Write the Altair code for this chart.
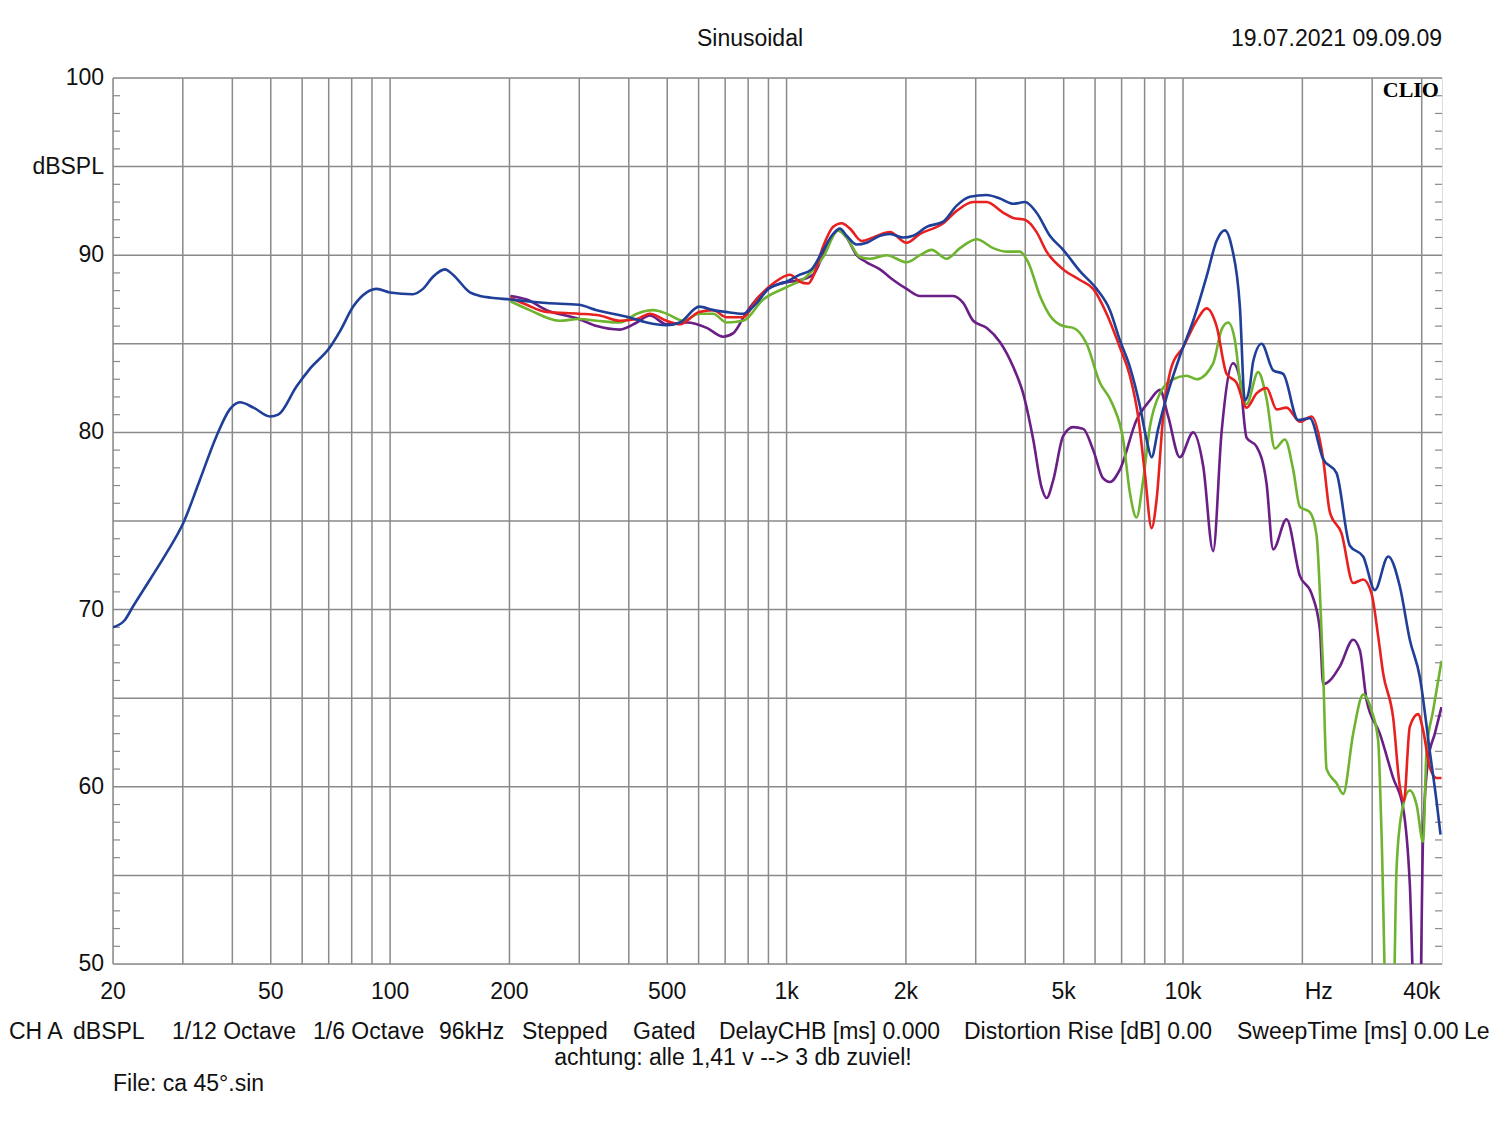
import altair as alt
import pandas as pd

# ---------------- data ----------------
blue_f = [20, 21.4, 22.5, 24.8, 27.3, 30.1, 33.1, 36.5, 39.4, 41.8,
          45.2, 49.8, 52.2, 58.1, 62.8, 70.5, 74.7, 80.7, 87.3, 92.5,
          99.9, 114, 121, 128.5, 137.5, 144, 159, 168.5, 180, 201,
          221, 248, 299, 332, 400, 444, 498, 538, 602, 653,
          702, 777, 840, 900, 1000, 1081, 1156, 1237, 1311, 1363,
          1417, 1502, 1592, 1720, 1823, 1968, 2086, 2256, 2484, 2686,
          2900, 3194, 3452, 3729, 3991, 4273, 4615, 4986, 5494, 6054,
          6540, 6930, 7344, 7782, 8092, 8330, 8656, 9090, 9814, 10606,
          11468, 12150, 12752, 13258, 13912, 14320, 14742, 15030, 15782, 16882,
          17890, 19518, 20890, 22566, 24392, 26354, 28468, 30470, 32916, 35230,
          37328, 39560, 41924, 43590, 44616]
blue_db = [69.0, 69.4, 70.2, 71.7, 73.2, 74.9, 77.3, 79.8, 81.3, 81.7,
           81.4, 80.9, 81.0, 82.6, 83.6, 84.8, 85.7, 87.1, 87.9, 88.1,
           87.9, 87.8, 88.1, 88.8, 89.2, 88.9, 87.9, 87.7, 87.6, 87.5,
           87.4, 87.3, 87.2, 86.9, 86.5, 86.2, 86.05, 86.2, 87.1, 86.9,
           86.8, 86.7, 87.3, 88.1, 88.5, 88.9, 89.2, 90.3, 91.2, 91.5,
           91.1, 90.6, 90.7, 91.1, 91.2, 91.0, 91.1, 91.6, 91.9, 92.8,
           93.3, 93.4, 93.2, 92.9, 93.0, 92.4, 91.1, 90.3, 89.1, 88.1,
           86.9, 85.2, 83.7, 81.5, 79.6, 78.6, 80.2, 82.0, 84.3, 86.3,
           88.8, 90.8, 91.4, 90.5, 87.1, 81.8, 82.6, 84.0, 85.0, 83.5,
           83.3, 80.7, 80.8, 78.5, 77.7, 73.6, 73.0, 71.1, 73.0, 71.3,
           68.3, 66.2, 62.0, 59.2, 57.3]

red_f = [201, 221, 248, 299, 338, 380, 419, 452, 498, 538,
         602, 653, 706, 777, 840, 925, 1020, 1081, 1134, 1167,
         1237, 1311, 1377, 1445, 1547, 1654, 1823, 2008, 2170, 2484,
         2686, 2956, 3194, 3518, 3729, 3991, 4273, 4528, 4986, 5494,
         5936, 6416, 6930, 7344, 7706, 8012, 8330, 8576, 8912, 9354,
         10004, 10816, 11468, 12150, 12878, 13646, 14462, 15330, 16246, 17216,
         18244, 19712, 21098, 22566, 23462, 25110, 26862, 28468, 29892, 31058,
         31974, 33884, 35230, 36060, 37328, 39170, 40324, 41924, 43590, 44874]
red_db = [87.6, 87.2, 86.8, 86.7, 86.6, 86.3, 86.4, 86.7, 86.3, 86.1,
          86.8, 86.9, 86.5, 86.5, 87.5, 88.4, 88.9, 88.5, 88.4, 88.8,
          90.5, 91.6, 91.8, 91.5, 90.8, 91.0, 91.3, 90.7, 91.2, 91.8,
          92.5, 93.0, 93.0, 92.4, 92.1, 92.0, 91.3, 90.2, 89.2, 88.6,
          88.1, 86.7, 84.8, 83.2, 80.9, 77.7, 74.6, 76.2, 80.9, 83.7,
          84.8, 86.3, 87.0, 86.0, 83.3, 82.8, 81.4, 82.2, 82.5, 81.3,
          81.4, 80.6, 80.9, 78.5, 75.5, 74.3, 71.5, 71.7, 70.9, 68.5,
          66.4, 63.9, 60.0, 59.2, 63.4, 64.1, 63.2, 61.1, 60.5, 60.5]

green_f = [201, 225, 268, 299, 332, 380, 419, 461, 498, 549,
           602, 653, 706, 777, 873, 1000, 1123, 1237, 1350, 1417,
           1531, 1623, 1788, 2008, 2170, 2322, 2532, 2738, 3016, 3320,
           3589, 3876, 4069, 4356, 4615, 4986, 5284, 5713, 6171, 6540,
           6666, 7063, 7344, 7634, 7932, 8248, 8742, 9442, 10206, 10816,
           11912, 12508, 12998, 13514, 13912, 14462, 15472, 16246, 17046, 18068,
           18960, 19712, 20890, 21718, 22138, 22566, 23016, 24392, 25348, 26862,
           28468, 29892, 31058, 31680, 32614, 33884, 34562, 35580, 37328, 38810,
           40324, 41130, 42734, 44874]
green_db = [87.4, 86.9, 86.3, 86.4, 86.3, 86.2, 86.7, 86.9, 86.7, 86.3,
            86.7, 86.7, 86.2, 86.3, 87.5, 88.2, 88.8, 89.9, 91.4, 91.0,
            89.9, 89.8, 90.0, 89.6, 90.0, 90.3, 89.8, 90.4, 90.9, 90.4,
            90.2, 90.2, 89.6, 87.7, 86.6, 86.0, 85.9, 85.0, 82.8, 81.9,
            81.5, 79.6, 76.6, 75.2, 77.3, 80.3, 82.2, 83.0, 83.2, 83.0,
            83.9, 85.8, 86.2, 85.2, 83.0, 81.6, 83.4, 81.9, 79.1, 79.6,
            77.9, 75.8, 75.5, 74.2, 71.0, 66.5, 61.0, 60.2, 59.6, 63.0,
            65.2, 64.3, 62.6, 57.3, 47.0, 47.0, 55.4, 58.5, 59.8, 59.0,
            56.9, 62.0, 64.3, 67.1]

purple_f = [201, 221, 248, 299, 332, 380, 419, 452, 498, 560,
            629, 692, 734, 793, 873, 962, 1081, 1167, 1262, 1350,
            1417, 1502, 1592, 1720, 1858, 2008, 2170, 2344, 2632, 2790,
            2956, 3194, 3452, 3729, 3951, 4189, 4398, 4528, 4705, 4986,
            5284, 5601, 5936, 6290, 6540, 6930, 7634, 8248, 8742, 9174,
            9814, 10606, 11242, 11912, 12508, 13380, 13912, 14462, 15330, 16246,
            16882, 18244, 19712, 21098, 22138, 22566, 23462, 24868, 26862, 27928,
            29036, 31368, 33884, 35910, 37328, 38428, 39560, 40324, 41512, 43160,
            44874]
purple_db = [87.7, 87.5, 86.9, 86.4, 86.0, 85.8, 86.2, 86.6, 86.1, 86.2,
             85.9, 85.4, 85.6, 86.8, 87.9, 88.4, 88.6, 88.9, 90.5, 91.4,
             91.0, 90.0, 89.6, 89.2, 88.6, 88.1, 87.7, 87.7, 87.7, 87.3,
             86.3, 85.9, 85.1, 83.7, 82.2, 79.6, 76.9, 76.3, 77.3, 79.8,
             80.3, 80.2, 79.0, 77.4, 77.2, 77.9, 80.7, 81.8, 82.4, 80.9,
             78.6, 80.0, 78.1, 73.3, 80.0, 83.9, 83.0, 79.7, 79.2, 77.1,
             73.4, 75.1, 71.9, 70.9, 68.9, 65.8, 66.0, 66.8, 68.3, 67.7,
             64.9, 63.0, 60.5, 58.8, 54.5, 47.0, 47.0, 57.3, 61.5, 63.0,
             64.5]

grid_f = [20, 30, 40, 50, 60, 70, 80, 90, 100, 200, 300, 400, 500, 600, 700, 800, 900,
          1000, 2000, 3000, 4000, 5000, 6000, 7000, 8000, 9000, 10000, 20000, 30000, 40000]
grid_db = [50, 55, 60, 65, 70, 75, 80, 85, 90, 95, 100]
minor_db = [d for d in range(51, 100) if d % 5 != 0]

xtick_f = [20, 50, 100, 200, 500, 1000, 2000, 5000, 10000, 22000, 40000]
xtick_lbl = ["20", "50", "100", "200", "500", "1k", "2k", "5k", "10k", "Hz", "40k"]
ytick_db = [100, 95, 90, 80, 70, 60, 50]
ytick_lbl = ["100", "dBSPL", "90", "80", "70", "60", "50"]

info_items = ["CH A", "dBSPL", "1/12 Octave", "1/6 Octave", "96kHz", "Stepped", "Gated",
              "DelayCHB [ms] 0.000", "Distortion Rise [dB] 0.00", "SweepTime [ms] 0.00", "Le"]
info_left = [9, 73, 172, 313, 439, 522, 633, 719, 964, 1237, 1464]

W, H = 1329, 886
FONT = "Liberation Sans"
FS = 23

xs = alt.Scale(type="log", domain=[20, 45000], nice=False)
ys = alt.Scale(domain=[50, 100], nice=False, zero=False)

layers = []

# grid
layers.append(alt.Chart(pd.DataFrame({"f": grid_f})).mark_rule(color="#8a8a8a", strokeWidth=1.5)
              .encode(x=alt.X("f:Q", scale=xs, axis=None)))
layers.append(alt.Chart(pd.DataFrame({"db": grid_db})).mark_rule(color="#8a8a8a", strokeWidth=1.5)
              .encode(y=alt.Y("db:Q", scale=ys, axis=None)))
mdf = pd.DataFrame({"db": minor_db})
layers.append(alt.Chart(mdf).mark_rule(color="#8a8a8a", strokeWidth=1.2)
              .encode(y=alt.Y("db:Q", scale=ys, axis=None), x=alt.value(0), x2=alt.value(7)))
layers.append(alt.Chart(mdf).mark_rule(color="#8a8a8a", strokeWidth=1.2)
              .encode(y=alt.Y("db:Q", scale=ys, axis=None), x=alt.value(W - 7), x2=alt.value(W)))

series = [("purple", purple_f, purple_db, "#6a1f86"),
          ("green", green_f, green_db, "#6eb42e"),
          ("red", red_f, red_db, "#e82020"),
          ("blue", blue_f, blue_db, "#1f3f98")]
for name, fs, ds, col in series:
    df = pd.DataFrame({"f": fs, "db": ds})
    layers.append(alt.Chart(df).mark_line(clip=True, color=col, strokeWidth=2.6, interpolate="monotone")
                  .encode(x=alt.X("f:Q", scale=xs, axis=None), y=alt.Y("db:Q", scale=ys, axis=None)))

# tick labels
layers.append(alt.Chart(pd.DataFrame({"f": xtick_f, "t": xtick_lbl}))
              .mark_text(font=FONT, fontSize=FS, color="#111", align="center", baseline="middle")
              .encode(x=alt.X("f:Q", scale=xs, axis=None), y=alt.value(H + 28), text="t:N"))
layers.append(alt.Chart(pd.DataFrame({"db": ytick_db, "t": ytick_lbl}))
              .mark_text(font=FONT, fontSize=FS, color="#111", align="right", baseline="middle")
              .encode(y=alt.Y("db:Q", scale=ys, axis=None), x=alt.value(-9), text="t:N"))

def txt(s, x, y, align="left", **kw):
    opts = dict(font=FONT, fontSize=FS, color="#111", align=align, baseline="middle")
    opts.update(kw)
    return alt.Chart(pd.DataFrame({"t": [s]})).mark_text(**opts).encode(
        x=alt.value(x), y=alt.value(y), text="t:N")

layers.append(txt("Sinusoidal", 637, -39, "center"))
layers.append(txt("19.07.2021 09.09.09", W, -39, "right"))
layers.append(txt("CLIO", W - 3, 12, "right", font="Liberation Serif", fontWeight="bold", fontSize=22, color="#000"))
for s, lx in zip(info_items, info_left):
    layers.append(txt(s, lx - 113, 954))
layers.append(txt("achtung: alle 1,41 v --> 3 db zuviel!", 620, 980, "center"))
layers.append(txt("File: ca 45°.sin", 0, 1006))

chart = alt.layer(*layers).properties(
    width=W, height=H,
    padding={"left": 105, "top": 70, "right": 48, "bottom": 140},
    autosize=alt.AutoSizeParams(type="none"),
).configure_view(stroke="#6a6a6a", strokeWidth=2.5).configure(background="white")

chart.save("out.html", embed_options={"renderer": "svg", "actions": False})
